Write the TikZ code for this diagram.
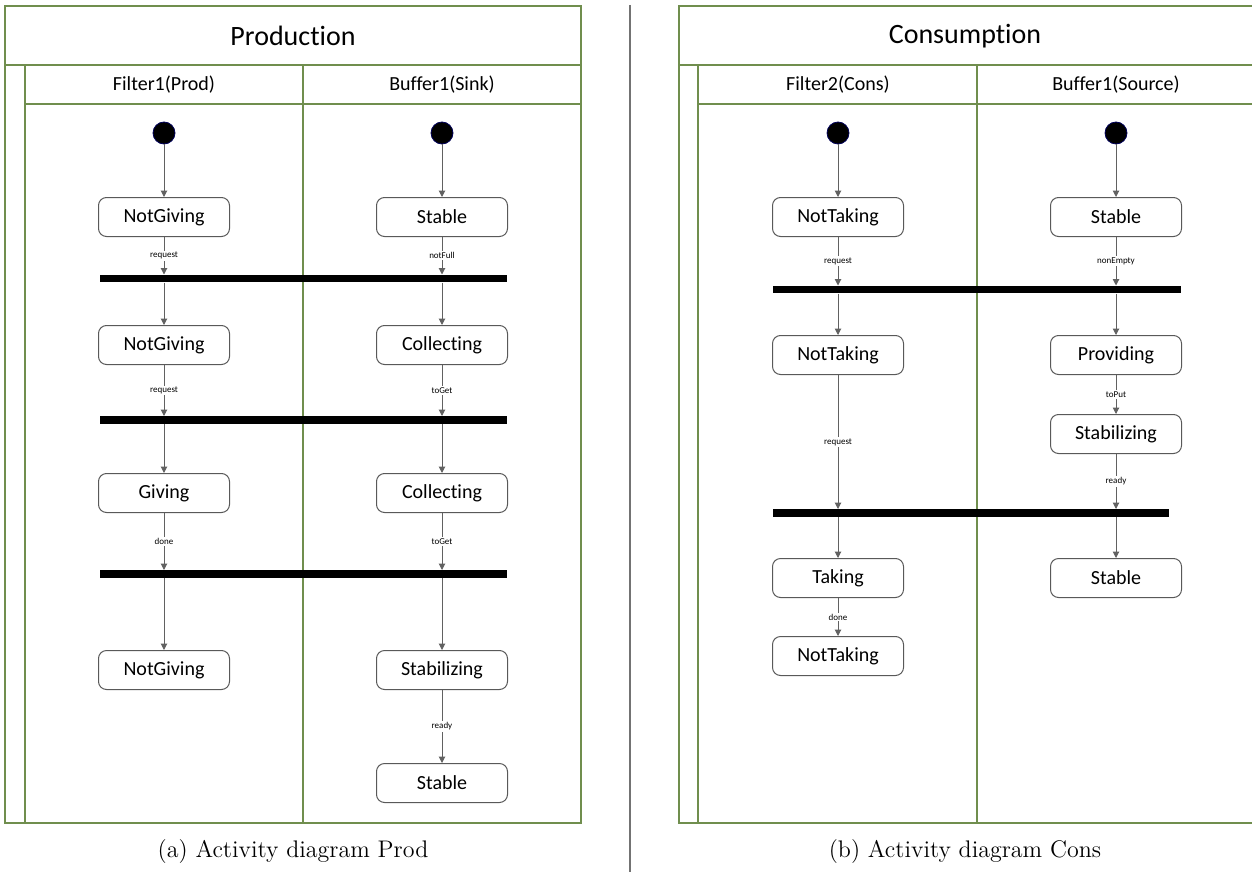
\documentclass[tikz,border=0pt]{standalone}
\usepackage{fontspec}
\newfontfamily\calib[Ligatures=NoCommon]{Carlito}
\usetikzlibrary{arrows.meta}

\definecolor{lanegreen}{RGB}{112,142,78}

\tikzset{
  state/.style={draw=black!65, line width=0.5pt, rounded corners=4pt, inner sep=0pt,
    minimum width=65.5pt, minimum height=19.5pt, font=\calib\fontsize{10}{12}\selectfont},
  init/.style={circle, fill=black, draw=blue!35!black, line width=0.4pt, minimum size=11pt, inner sep=0pt},
  bar/.style={fill=black, minimum height=3.6pt, inner sep=0pt},
  trans/.style={draw=black!62, line width=0.5pt, -{Triangle[length=3.2pt,width=3.2pt]}},
  guard/.style={fill=white, inner sep=0.6pt, text=black, font=\calib\fontsize{4.5}{5}\selectfont},
  lane/.style={draw=lanegreen, line width=0.55pt},
  swimtitle/.style={font=\calib\fontsize{14}{16}\selectfont},
  swimhead/.style={font=\calib\fontsize{10}{12}\selectfont},
  subcap/.style={font=\fontsize{12}{14}\selectfont}
}

\begin{document}
\begin{tikzpicture}[x=0.5pt, y=-0.5pt]
\useasboundingbox (0,0) rectangle (1252,872);
%\draw[help lines, step=50] (0,0) grid (1252,872);

% Prod
\draw[lane] (5,6) rectangle (581,823);
\draw[lane] (5,65) -- (581,65) (25,65) -- (25,823) (25,104) -- (581,104) (303,65) -- (303,823);
\node[swimtitle] (tprod) at (293,36) {Production};
\node[swimhead] (hf1) at (164,85) {Filter1(Prod)};
\node[swimhead] (hb1) at (442,85) {Buffer1(Sink)};

\node[init] (i1) at (164,133) {};
\node[init] (i2) at (442,133) {};
\node[state] (ng1) at (164,217) {NotGiving};
\node[state] (st1) at (442,217) {Stable};
\node[bar, minimum width=203.5pt] (j1) at (303.5,278.5) {};
\node[state] (ng2) at (164,345) {NotGiving};
\node[state] (co1) at (442,345) {Collecting};
\node[bar, minimum width=203.5pt] (j2) at (303.5,420) {};
\node[state] (gi) at (164,493) {Giving};
\node[state] (co2) at (442,493) {Collecting};
\node[bar, minimum width=203.5pt] (j3) at (303.5,574) {};
\node[state] (ng3) at (164,670) {NotGiving};
\node[state] (sz1) at (442,670) {Stabilizing};
\node[state] (st2) at (442,783) {Stable};

\draw[trans] (i1) -- (ng1);
\draw[trans] (i2) -- (st1);
\draw[trans] (ng1) -- node[guard]{request} (ng1 |- j1.north);
\draw[trans] (st1) -- node[guard]{notFull} (st1 |- j1.north);
\draw[trans] (ng2) -- node[guard]{request} (ng2 |- j2.north);
\draw[trans] (co1) -- node[guard]{toGet} (co1 |- j2.north);
\draw[trans] (gi) -- node[guard]{done} (gi |- j3.north);
\draw[trans] (co2) -- node[guard]{toGet} (co2 |- j3.north);
\draw[trans] (sz1) -- node[guard]{ready} (st2);
\foreach \j/\a/\b in {j1/ng1/ng2, j1/st1/co1, j2/ng2/gi, j2/co1/co2, j3/gi/ng3, j3/co2/sz1}
  \draw[trans] (\a |- \j.south) -- (\b);

\node[subcap] (capa) at (293,852) {(a) Activity diagram Prod};

\draw[black!55, line width=0.6pt] (630,5) -- (630,872);

% Cons
\draw[lane] (679,6) rectangle (1255,823);
\draw[lane] (679,65) -- (1255,65) (698,65) -- (698,823) (698,104) -- (1255,104) (977,65) -- (977,823);
\node[swimtitle] (tcons) at (965,36) {Consumption};
\node[swimhead] (hf2) at (838,85) {Filter2(Cons)};
\node[swimhead] (hb2) at (1116,85) {Buffer1(Source)};

\node[init] (i3) at (838,133) {};
\node[init] (i4) at (1116,133) {};
\node[state] (nt1) at (838,217) {NotTaking};
\node[state] (st3) at (1116,217) {Stable};
\node[bar, minimum width=204pt] (j4) at (977,289.5) {};
\node[state] (nt2) at (838,355) {NotTaking};
\node[state] (pr) at (1116,355) {Providing};
\node[state] (sz2) at (1116,434) {Stabilizing};
\node[bar, minimum width=198pt] (j5) at (971,513) {};
\node[state] (ta) at (838,578) {Taking};
\node[state] (st4) at (1116,578) {Stable};
\node[state] (nt3) at (838,656) {NotTaking};

\draw[trans] (i3) -- (nt1);
\draw[trans] (i4) -- (st3);
\draw[trans] (nt1) -- node[guard]{request} (nt1 |- j4.north);
\draw[trans] (st3) -- node[guard]{nonEmpty} (st3 |- j4.north);
\draw[trans] (nt2) -- node[guard]{request} (nt2 |- j5.north);
\draw[trans] (pr) -- node[guard]{toPut} (sz2);
\draw[trans] (sz2) -- node[guard]{ready} (sz2 |- j5.north);
\draw[trans] (ta) -- node[guard]{done} (nt3);
\foreach \j/\a/\b in {j4/nt1/nt2, j4/st3/pr, j5/nt2/ta, j5/sz2/st4}
  \draw[trans] (\a |- \j.south) -- (\b);

\node[subcap] (capb) at (965,852) {(b) Activity diagram Cons};
\end{tikzpicture}
\end{document}
